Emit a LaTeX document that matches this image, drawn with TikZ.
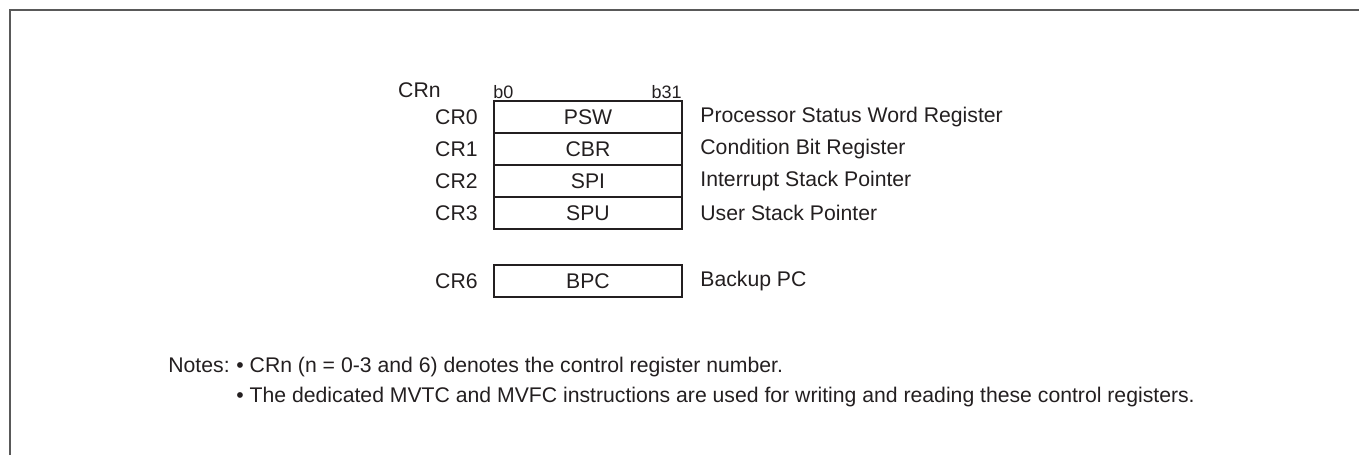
\documentclass[tikz,border=0pt]{standalone}
\usepackage{fontspec}
\setmainfont{Liberation Sans}
\usetikzlibrary{positioning}
\definecolor{ink}{HTML}{231F20}

\begin{document}
\begin{tikzpicture}[x=0.5pt,y=-0.5pt,
  regcell/.style={draw=ink,line width=0.6pt,minimum width=94pt,minimum height=16pt,inner sep=0pt,outer sep=0pt,text=ink,font=\fontsize{10.6}{12.5}\selectfont},
  crlabel/.style={inner sep=0pt,text=ink,font=\fontsize{10.6}{12.5}\selectfont},
  bitlabel/.style={inner sep=0pt,text=ink,font=\fontsize{9}{11}\selectfont}]
\useasboundingbox (0,0) rectangle (1359,455);
\draw[black!65,line width=0.8pt] (10,455) -- (10,10) -- (1359,10);

% register cells
\node[regcell] (psw) at (588,117) {PSW};
\node[regcell,below=0pt of psw] (cbr) {CBR};
\node[regcell,below=0pt of cbr] (spi) {SPI};
\node[regcell,below=0pt of spi] (spu) {SPU};
\node[regcell] (bpc) at (588,281) {BPC};

% register numbers
\node[crlabel,anchor=east] (crn) at (441,90) {CRn};
\node[crlabel,left=8pt of psw] (cr0) {CR0};
\node[crlabel,left=8pt of cbr] (cr1) {CR1};
\node[crlabel,left=8pt of spi] (cr2) {CR2};
\node[crlabel,left=8pt of spu] (cr3) {CR3};
\node[crlabel,left=8pt of bpc] (cr6) {CR6};

% bit positions
\node[bitlabel,anchor=base west] (bzero) at (493,98) {b0};
\node[bitlabel,anchor=base east] (bthirtyone) at (682,98) {b31};

% register names
\node[crlabel,right=9pt of psw] (pswname) {Processor Status Word Register};
\node[crlabel,right=9pt of cbr] (cbrname) {Condition Bit Register};
\node[crlabel,right=9pt of spi] (spiname) {Interrupt Stack Pointer};
\node[crlabel,right=9pt of spu] (spuname) {User Stack Pointer};
\node[crlabel,right=9pt of bpc] (bpcname) {Backup PC};

% notes
\node[crlabel,anchor=base west] (notes) at (168,372) {Notes:};
\node[crlabel,anchor=base west] (noteone) at (236,372) {• CRn (n = 0-3 and 6) denotes the control register number.};
\node[crlabel,anchor=base west] (notetwo) at (236,402) {• The dedicated MVTC and MVFC instructions are used for writing and reading these control registers.};
\end{tikzpicture}
\end{document}
